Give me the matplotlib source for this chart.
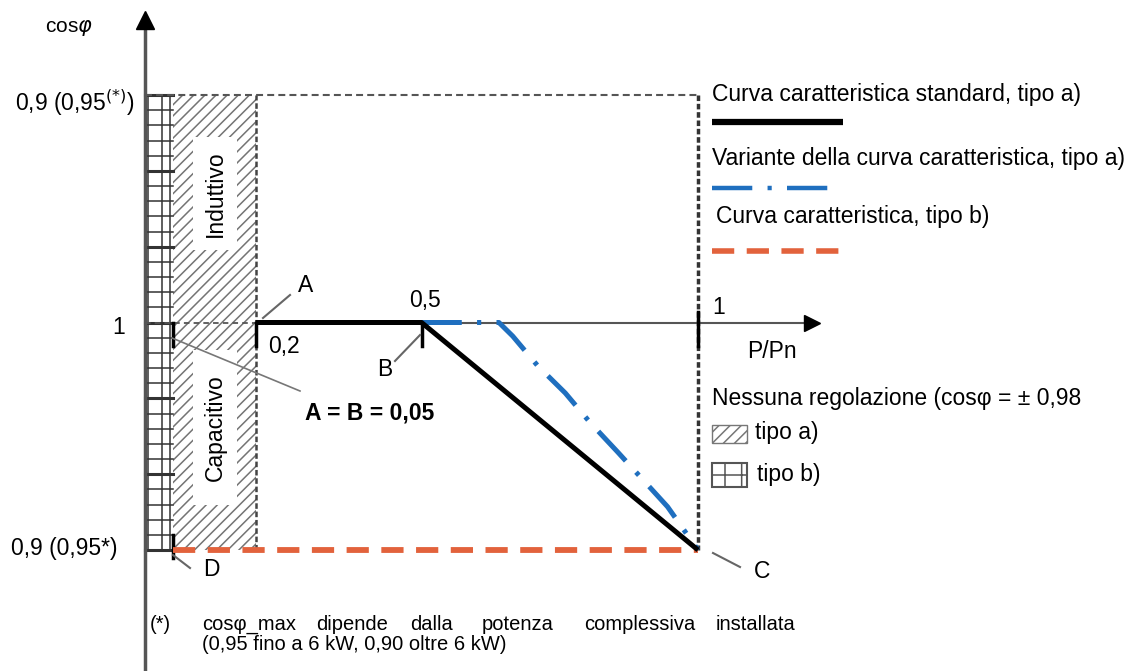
import matplotlib
matplotlib.use('Agg')
import matplotlib.pyplot as plt
import numpy as np
from matplotlib.patches import Rectangle

plt.rcParams['font.family'] = ['Liberation Sans', 'DejaVu Sans']
plt.rcParams['hatch.linewidth'] = 1.1
plt.rcParams['lines.scale_dashes'] = False
plt.rcParams['mathtext.fontset'] = 'dejavusans'

# ---------------- data ----------------
p_std = [0.2, 0.5, 1.0]            # standard curve type a)
q_std = [0.0, 0.0, -1.0]
p_var = [0.5, 0.64, 0.665, 0.71, 0.76, 0.805, 0.855, 0.90, 0.945, 1.0]   # variant type a)
q_var = [0.0, 0.0, -0.06, -0.19, -0.31, -0.44, -0.57, -0.69, -0.81, -1.0]
p_b = [0.05, 1.0]                  # curve type b)
q_b = [-1.0, -1.0]
tick_p = [0.05, 0.2, 0.5, 1.0]
tick_labels = ['0,2', '0,5', '1']
zone_b = (0.0, 0.05)               # no regulation, type b)
zone_a = (0.05, 0.2)               # no regulation, type a)
y_levels = [1.0, 0.0, -1.0]
y_labels = ['0,9 (0,95$^{(*)}$)', '1', '0,9 (0,95*)']
legend_labels = ['Curva caratteristica standard, tipo a)',
                 'Variante della curva caratteristica, tipo a)',
                 'Curva caratteristica, tipo b)']

# ---------------- layout helpers (pixel -> data) ----------------
W, H = 1126, 671
X0, SX = 145.0, 553.0
Y0, SY = 322.5, 227.5
def X(px):
    return (px - X0) / SX
def Y(py):
    return (Y0 - py) / SY

FS = 16.5
BLACK = '#000000'
BLUE = '#1f6fbf'
ORANGE = '#e2623c'
GRAY = '#555555'

fig = plt.figure(figsize=(W / 100, H / 100), dpi=100)
ax = fig.add_axes([0, 0, 1, 1])
ax.set_xlim(X(0), X(W))
ax.set_ylim(Y(H), Y(0))
ax.axis('off')

# ---- zone a) hatched ----
ax.add_patch(Rectangle((zone_a[0], y_levels[2]), zone_a[1] - zone_a[0],
                       y_levels[0] - y_levels[2], facecolor='white',
                       edgecolor='#747474', hatch='///', lw=0, zorder=1))
# white boxes with labels
for (pt, pb), lab in [((137, 250), 'Induttivo'), ((350, 505), 'Capacitivo')]:
    ax.add_patch(Rectangle((X(193), Y(pb)), X(237) - X(193), Y(pt) - Y(pb),
                           facecolor='white', edgecolor='none', zorder=2))
    ax.text((X(193) + X(237)) / 2, (Y(pt) + Y(pb)) / 2, lab, rotation=90,
            ha='center', va='center', fontsize=FS, zorder=3)
ax.plot([zone_a[1], zone_a[1]], [y_levels[2], y_levels[0]], color='#444444',
        lw=1.8, ls=(0, (4, 2)), zorder=3)

# ---- zone b) grid ----
gy = np.linspace(y_levels[2], y_levels[0], 31)
for i, yy in enumerate(gy):
    lw = 2.2 if i % 5 == 0 else 1.1
    ax.plot([zone_b[0], zone_b[1]], [yy, yy], color='#333333', lw=lw, zorder=2)
for xx in [zone_b[0], 0.006, 0.031, 0.046]:
    ax.plot([xx, xx], [y_levels[2], y_levels[0]], color='#333333', lw=1.1, zorder=2)

# ---- frame dashed lines ----
ax.plot([0, 1.0], [y_levels[0], y_levels[0]], color=GRAY, lw=1.5, ls=(0, (5, 3)), zorder=3)
ax.plot([1.0, 1.0], [y_levels[0], y_levels[2]], color='#333333', lw=2.5, ls=(0, (4, 2)), zorder=3)

# ---- axes ----
ax.plot([0, 0], [Y(H), Y(28)], color=GRAY, lw=2.5, zorder=4)
ax.plot([0], [Y(20)], marker='^', ms=13, color=BLACK, zorder=5)
ax.plot([0, zone_a[1]], [0, 0], color=GRAY, lw=1.3, ls=(0, (4, 3)), zorder=4)
ax.plot([zone_a[1], X(808)], [0, 0], color=GRAY, lw=1.5, zorder=4)
ax.plot([X(812)], [0], marker='>', ms=12, color=BLACK, zorder=5)

# ticks
for p in tick_p:
    top = Y(312) if p == 1.0 else 0
    ax.plot([p, p], [top, Y(346)], color=BLACK, lw=2.5, zorder=6)
ax.plot([zone_a[0], zone_a[0]], [Y(535), Y(558)], color=BLACK, lw=2.5, zorder=6)

# ---- curves ----
ax.plot(p_b, q_b, color=ORANGE, lw=4.2, ls=(0, (16, 9)), zorder=7)
ax.plot(p_var, q_var, color=BLUE, lw=3.6, ls=(0, (29, 11, 3, 11)), zorder=7)
ax.plot(p_std, q_std, color=BLACK, lw=3.6, solid_capstyle='butt', zorder=8)

# ---- axis labels ----
ax.text(X(45), Y(28), 'cos$\\varphi$', ha='left', va='center', fontsize=15)
ax.text(X(15), y_levels[0] + Y(98) - Y(90), y_labels[0], ha='left', va='center', fontsize=FS)
ax.text(X(125), Y(328), y_labels[1], ha='right', va='center', fontsize=FS)
ax.text(X(11), Y(548), y_labels[2], ha='left', va='center', fontsize=FS)
ax.text(X(268), Y(347), tick_labels[0], ha='left', va='center', fontsize=FS)
ax.text(X(425), Y(300), tick_labels[1], ha='center', va='center', fontsize=FS)
ax.text(X(712), Y(308), tick_labels[2], ha='left', va='center', fontsize=FS)
ax.text(X(747), Y(352), 'P/Pn', ha='left', va='center', fontsize=FS)

# point labels + leaders
LC = '#666666'
for (x1, y1, x2, y2), (tx, ty, t) in [((263, 318, 290, 295), (306, 285, 'A')),
                                      ((395, 361, 420, 335), (385, 370, 'B')),
                                      ((713, 553, 740, 567), (762, 571, 'C')),
                                      ((173, 555, 190, 568), (211, 570, 'D'))]:
    ax.plot([X(x1), X(x2)], [Y(y1), Y(y2)], color=LC, lw=1.5, zorder=6)
    ax.text(X(tx), Y(ty), t, ha='center', va='center', fontsize=FS)
ax.plot([X(172), X(300)], [Y(338), Y(391)], color='#777777', lw=1.2, zorder=6)
ax.text(X(305), Y(413), 'A = B = 0,05', ha='left', va='center', fontsize=FS, fontweight='bold')

# ---- legend ----
ax.text(X(712), Y(94), legend_labels[0], ha='left', va='center', fontsize=FS)
ax.plot([X(712), X(843)], [Y(122), Y(122)], color=BLACK, lw=4.5, solid_capstyle='butt')
ax.text(X(712), Y(158), legend_labels[1], ha='left', va='center', fontsize=FS)
ax.plot([X(712), X(833)], [Y(188), Y(188)], color=BLUE, lw=3.2, ls=(0, (29, 11, 3, 11)))
ax.text(X(716), Y(216), legend_labels[2], ha='left', va='center', fontsize=FS)
ax.plot([X(712), X(842)], [Y(251), Y(251)], color=ORANGE, lw=4.0, ls=(0, (16, 9)))

ax.text(X(712), Y(398), 'Nessuna regolazione (cos\u03c6 = \u00b1 0,98', ha='left', va='center', fontsize=FS)
ax.add_patch(Rectangle((X(712), Y(443)), X(747) - X(712), Y(425) - Y(443),
                       facecolor='white', edgecolor='#777777', hatch='///', lw=1.0))
ax.text(X(755), Y(432), 'tipo a)', ha='left', va='center', fontsize=FS)
ax.add_patch(Rectangle((X(712), Y(487)), X(747) - X(712), Y(463) - Y(487),
                       facecolor='white', edgecolor='#555555', hatch='+', lw=1.5))
ax.text(X(757), Y(474), 'tipo b)', ha='left', va='center', fontsize=FS)

# ---- footnote ----
FN = 14.5
ax.text(X(150), Y(624), '(*)', ha='left', va='center', fontsize=FN)
words = ['cos\u03c6_max', 'dipende', 'dalla', 'potenza', 'complessiva', 'installata']
wx = [202, 316, 410, 482, 584, 716]
for w, xp in zip(words, wx):
    ax.text(X(xp), Y(624), w, ha='left', va='center', fontsize=FN)
ax.text(X(202), Y(645), '(0,95 fino a 6 kW, 0,90 oltre 6 kW)', ha='left', va='center', fontsize=FN)

fig.savefig('out.png', dpi=100)
